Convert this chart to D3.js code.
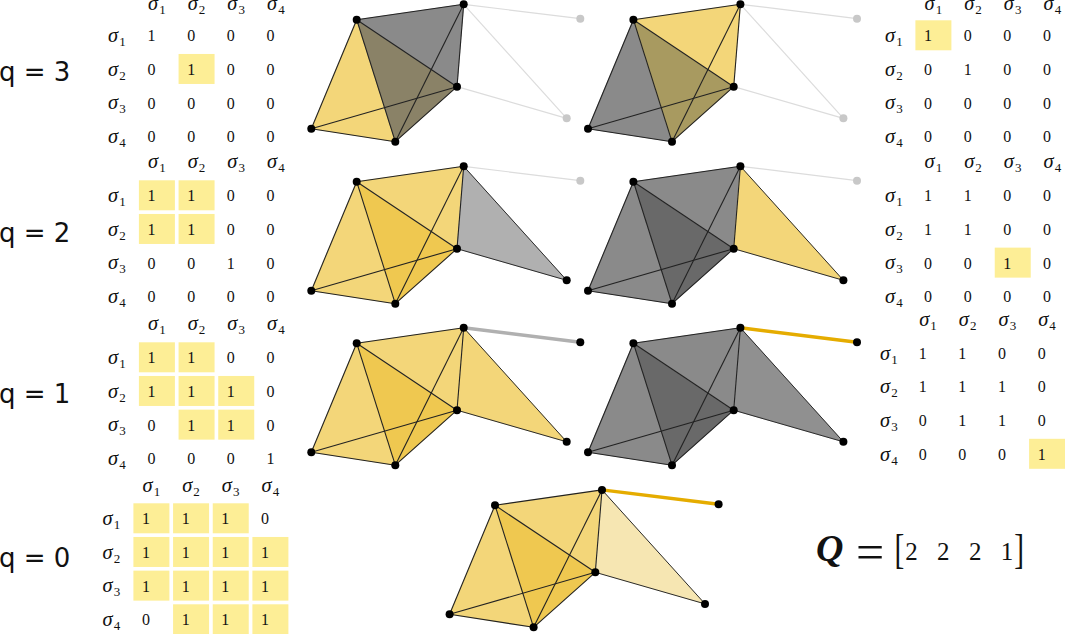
<!DOCTYPE html>
<html>
<head>
<meta charset="utf-8">
<script src="https://cdn.jsdelivr.net/npm/d3@7"></script>
<style>
  html, body { margin: 0; padding: 0; background: #fff; }
  svg { display: block; }
</style>
</head>
<body>
<svg id="chart" width="1065" height="634"></svg>
<script>
// simplices and matrix values
const simplices = ["1", "2", "3", "4"];
const qLabels = ["q = 3", "q = 2", "q = 1", "q = 0"];
const qVector = ["2", "2", "2", "1"];

const matrixQ3 = [[1, 0, 0, 0], [0, 1, 0, 0], [0, 0, 0, 0], [0, 0, 0, 0]];
const matrixQ2 = [[1, 1, 0, 0], [1, 1, 0, 0], [0, 0, 1, 0], [0, 0, 0, 0]];
const matrixQ1 = [[1, 1, 0, 0], [1, 1, 1, 0], [0, 1, 1, 0], [0, 0, 0, 1]];
const matrixQ0 = [[1, 1, 1, 0], [1, 1, 1, 1], [1, 1, 1, 1], [0, 1, 1, 1]];

// highlighted cells, as [row, col]
const hiQ3Left = [[1, 1]];
const hiQ3Right = [[0, 0]];
const hiQ2Left = [[0, 0], [0, 1], [1, 0], [1, 1]];
const hiQ2Right = [[2, 2]];
const hiQ1Left = [[0, 0], [0, 1], [1, 0], [1, 1], [1, 2], [2, 1], [2, 2]];
const hiQ1Right = [[3, 3]];
const hiQ0 = [[0, 0], [0, 1], [0, 2], [1, 0], [1, 1], [1, 2], [1, 3], [2, 0], [2, 1], [2, 2], [2, 3], [3, 1], [3, 2], [3, 3]];

// the complex: node positions
const nodeNames = ["A", "B", "C", "D", "E", "F", "G"];
const nodeX = [356.7, 463.7, 457, 311.3, 395.3, 580.3, 566.7];
const nodeY = [19.7, 4.3, 86.7, 128.7, 141.7, 18.7, 118.3];

// regions: sigma1 only, sigma1 and sigma2, sigma2 only, sigma3
const faces = [["A", "D", "E"], ["A", "C", "E"], ["A", "B", "C"], ["B", "G", "C"]];
const coreEdges = [["A", "D"], ["D", "E"], ["E", "C"], ["C", "A"], ["A", "E"], ["D", "C"], ["A", "B"], ["B", "C"], ["B", "E"]];
const triEdges = [["B", "G"], ["C", "G"]];
const tailEdge = ["B", "F"];

// what each drawing shows, one state per face
const panelFaces = [
  ["yellow", "oliveDark", "gray", "none"],
  ["gray", "oliveLight", "yellow", "none"],
  ["yellow", "yellowDeep", "yellow", "grayLight"],
  ["gray", "grayDeep", "gray", "yellow"],
  ["yellow", "yellowDeep", "yellow", "yellow"],
  ["gray", "grayDeep", "gray", "grayMid"],
  ["yellow", "yellowDeep", "yellow", "yellowPale"]
];
const panelTri = ["ghost", "ghost", "solid", "solid", "solid", "solid", "solid"];
const panelTail = ["ghost", "ghost", "ghost", "ghost", "thickGray", "thickOrange", "thickOrange"];

const W = 1065, H = 634;

// layout, kept apart from the values above
const panelDx = [0, 276.7, 0, 276.7, 0, 276.7, 138.3];
const panelDy = [0, 0, 162, 162, 323.5, 323.5, 485.6];

const matrices = [
  { values: matrixQ3, hi: hiQ3Left, x0: 151.5, y0: 36, labelX: 108, headY: 10 },
  { values: matrixQ3, hi: hiQ3Right, x0: 928, y0: 36, labelX: 885, headY: 10 },
  { values: matrixQ2, hi: hiQ2Left, x0: 151.5, y0: 196, labelX: 108, headY: 168 },
  { values: matrixQ2, hi: hiQ2Right, x0: 928, y0: 196, labelX: 885, headY: 168 },
  { values: matrixQ1, hi: hiQ1Left, x0: 151.5, y0: 358, labelX: 108, headY: 330 },
  { values: matrixQ1, hi: hiQ1Right, x0: 922.7, y0: 353.5, labelX: 880, headY: 325.7 },
  { values: matrixQ0, hi: hiQ0, x0: 146, y0: 519, labelX: 102.5, headY: 492.3 }
];
const qBaseline = [81, 241.5, 403, 566.7];

const faceColor = d3.scaleOrdinal(
  ["none", "yellow", "yellowDeep", "yellowPale", "gray", "grayDeep", "grayMid", "grayLight", "oliveDark", "oliveLight"],
  ["none", "#f3d679", "#efc850", "#f6e6b2", "#8a8a8a", "#696969", "#909090", "#b0b0b0", "#8a8267", "#a89a60"]
);
const tailColor = d3.scaleOrdinal(["ghost", "thickGray", "thickOrange"], ["#dcdcdc", "#b0b0b0", "#e5ac00"]);
const tailWidth = d3.scaleOrdinal(["ghost", "thickGray", "thickOrange"], [1.2, 3.4, 3.4]);

const svg = d3.select("#chart");
const serif = "'Liberation Serif', serif";

function sigma(sel, i) {
  sel.append("tspan").attr("font-style", "italic").attr("font-size", 20.5).text("σ");
  sel.append("tspan").attr("font-size", 13).attr("dx", 1).attr("dy", 4).text(simplices[i]);
}

// simplicial complexes
panelFaces.forEach(function(states, p) {
  const x = d3.scaleLinear().domain([0, W]).range([panelDx[p], W + panelDx[p]]);
  const y = d3.scaleLinear().domain([0, H]).range([panelDy[p], H + panelDy[p]]);
  const px = n => x(nodeX[nodeNames.indexOf(n)]);
  const py = n => y(nodeY[nodeNames.indexOf(n)]);
  const g = svg.append("g");
  const line = d3.line().x(px).y(py);

  g.selectAll("path.face").data(faces).enter().append("path")
    .attr("class", "face")
    .attr("d", d => line(d) + "Z")
    .attr("fill", (d, i) => faceColor(states[i]))
    .attr("stroke", (d, i) => faceColor(states[i]))
    .attr("stroke-width", 0.5);

  const triGhost = panelTri[p] === "ghost";
  const tailGhost = panelTail[p] === "ghost";

  g.selectAll("path.tail").data([tailEdge]).enter().append("path")
    .attr("class", "tail")
    .attr("d", line)
    .attr("fill", "none")
    .attr("stroke", tailColor(panelTail[p]))
    .attr("stroke-width", tailWidth(panelTail[p]));

  g.selectAll("path.tri").data(triEdges).enter().append("path")
    .attr("class", "tri")
    .attr("d", line)
    .attr("fill", "none")
    .attr("stroke", triGhost ? "#dcdcdc" : "#2a2a2a")
    .attr("stroke-width", triGhost ? 1.2 : 1);

  g.selectAll("path.core").data(coreEdges).enter().append("path")
    .attr("class", "core")
    .attr("d", line)
    .attr("fill", "none")
    .attr("stroke", "#222")
    .attr("stroke-width", 1.1);

  g.selectAll("circle").data(nodeNames).enter().append("circle")
    .attr("cx", px)
    .attr("cy", py)
    .attr("r", 4)
    .attr("fill", function(d) {
      if (d === "G" && triGhost) return "#c8c8c8";
      if (d === "F" && tailGhost) return "#c8c8c8";
      return "#000";
    });
});

// incidence matrices
matrices.forEach(function(m) {
  const col = d3.scalePoint().domain(d3.range(4)).range([m.x0, m.x0 + 119]);
  const row = d3.scalePoint().domain(d3.range(4)).range([m.y0, m.y0 + 101]);
  const g = svg.append("g").attr("font-family", serif).attr("fill", "#111");

  g.selectAll("rect").data(m.hi).enter().append("rect")
    .attr("x", d => col(d[1]) - 12.6)
    .attr("y", d => row(d[0]) - 15.7)
    .attr("width", 36)
    .attr("height", 30)
    .attr("fill", "#fdee96");

  simplices.forEach(function(s, i) {
    g.append("text").attr("x", col(i) - 3.5).attr("y", m.headY).call(sigma, i);
    g.append("text").attr("x", m.labelX).attr("y", row(i) + 6).call(sigma, i);
  });

  m.values.forEach(function(vals, r) {
    g.selectAll("text.c" + r).data(vals).enter().append("text")
      .attr("class", "c" + r)
      .attr("x", (d, c) => col(c))
      .attr("y", row(r) + 5.3)
      .attr("text-anchor", "middle")
      .attr("font-size", 16)
      .text(d => d);
  });
});

// q labels
svg.selectAll("text.q").data(qLabels).enter().append("text")
  .attr("class", "q")
  .attr("x", -1)
  .attr("y", (d, i) => qBaseline[i])
  .attr("font-family", "'DejaVu Sans', sans-serif")
  .attr("font-size", 26)
  .attr("fill", "#111")
  .text(d => d);

// Q vector
const vecX = d3.scalePoint().domain(d3.range(qVector.length)).range([911.5, 1007]);
const eq = svg.append("g").attr("font-family", serif).attr("fill", "#111");
eq.append("text").attr("x", 816).attr("y", 561).attr("font-size", 38)
  .attr("font-weight", "bold").attr("font-style", "italic").text("Q");
eq.append("text").attr("x", 856).attr("y", 568.5).attr("font-size", 50).text("=");
eq.append("text").attr("transform", "translate(894.4,562.5) scale(0.7,1)").attr("font-size", 42).text("[");
eq.append("text").attr("transform", "translate(1014.2,562.5) scale(0.7,1)").attr("font-size", 42).text("]");
eq.selectAll("text.v").data(qVector).enter().append("text")
  .attr("class", "v")
  .attr("x", (d, i) => vecX(i))
  .attr("y", 560)
  .attr("text-anchor", "middle")
  .attr("font-size", 25)
  .text(d => d);
</script>
</body>
</html>
